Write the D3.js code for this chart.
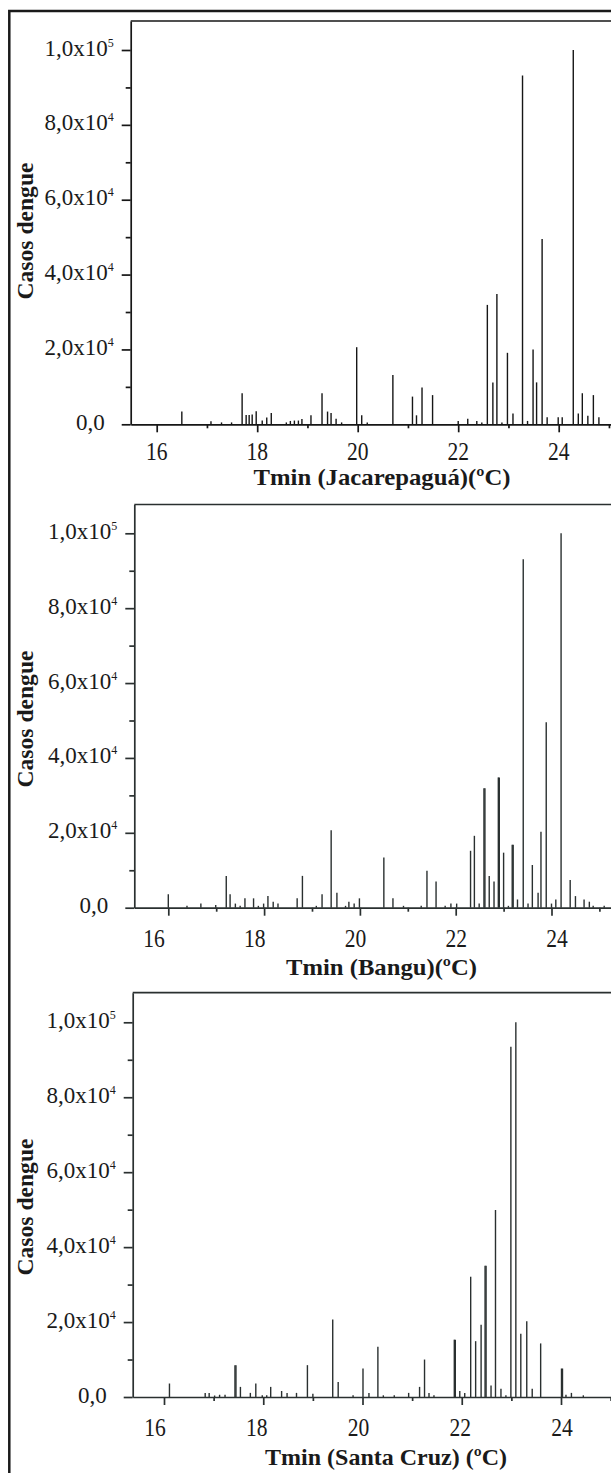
<!DOCTYPE html>
<html>
<head>
<meta charset="utf-8">
<style>
  html, body { margin: 0; padding: 0; background: #fff; overflow: hidden; }
  svg { display: block; }
  text { font-family: "Liberation Serif", "Times New Roman", serif; fill: #1a1a1a; }
  .ttl { font-weight: bold; }
</style>
</head>
<body>
<svg width="611" height="1473"></svg>
<script src="https://cdn.jsdelivr.net/npm/d3@7/dist/d3.min.js"></script>
<script>
// --- dados ---
var xMajor = [16, 18, 20, 22, 24, 26];
var xMinor = [17, 19, 21, 23, 25];
var yMajor = [0, 20000, 40000, 60000, 80000, 100000];
var yMinor = [10000, 30000, 50000, 70000, 90000];
var yLabelMant = ["0,0", "2,0x10", "4,0x10", "6,0x10", "8,0x10", "1,0x10"];
var yLabelExp = ["", "4", "4", "4", "4", "5"];
var xLabels = [16, 18, 20, 22, 24];
var yTitle = "Casos dengue";
var xTitles = ["Tmin (Jacarepaguá)(ºC)", "Tmin (Bangu)(ºC)", "Tmin (Santa Cruz) (ºC)"];

var jacT = [16.50,17.08,17.29,17.49,17.70,17.78,17.84,17.90,17.98,18.10,18.19,18.28,18.58,18.66,18.74,18.82,18.89,19.07,19.29,19.40,19.47,19.57,19.68,19.98,20.08,20.19,20.70,21.09,21.17,21.28,21.49,22.00,22.19,22.37,22.47,22.58,22.69,22.77,22.87,22.98,23.09,23.28,23.38,23.49,23.56,23.67,23.77,23.99,24.07,24.29,24.39,24.47,24.58,24.69,24.80];
var jacCases = [3400,800,500,500,8300,2500,2500,2600,3500,1000,1800,3000,500,900,1000,1000,1400,2400,8300,3400,3000,1500,500,20600,2400,500,13200,7400,2400,9800,7800,900,1500,900,500,31900,11200,34800,500,19100,2900,93200,900,20000,11200,49500,1900,1900,1900,100000,2900,8300,2300,7800,1900];

var banguT = [16.00,16.39,16.68,16.99,17.21,17.29,17.40,17.50,17.60,17.78,17.88,17.99,18.08,18.19,18.29,18.69,18.80,19.09,19.21,19.40,19.52,19.70,19.77,19.88,19.99,20.50,20.69,20.91,21.28,21.40,21.59,21.78,21.90,22.02,22.31,22.39,22.49,22.59,22.61,22.70,22.80,22.89,22.91,23.00,23.10,23.18,23.20,23.29,23.41,23.51,23.60,23.72,23.78,23.89,24.00,24.09,24.20,24.39,24.50,24.68,24.79,24.87,25.10];
var banguCases = [3600,500,1100,700,8500,3600,1100,500,2500,2500,500,1100,3100,1600,1100,2500,8500,500,3600,20700,4000,500,1600,1100,2500,13400,2500,500,500,9900,7000,500,1100,1100,15200,19200,1100,31900,31900,8500,7000,34800,34800,14700,500,16800,16800,2200,93100,1100,11400,4000,20300,49500,1100,2200,100000,7400,3100,2200,1600,500,500];

var scT = [16.11,16.83,16.91,17.02,17.12,17.23,17.43,17.45,17.54,17.74,17.85,17.98,18.07,18.15,18.37,18.48,18.67,18.89,19.00,19.40,19.51,19.81,20.01,20.13,20.31,20.42,20.64,20.93,21.15,21.25,21.34,21.44,21.85,21.87,21.96,22.06,22.18,22.28,22.39,22.47,22.49,22.59,22.68,22.79,22.89,22.99,23.09,23.19,23.31,23.42,23.59,24.01,24.03,24.10,24.21,24.45];
var scCases = [3600,1100,1100,400,600,600,8500,8500,2700,1100,3600,450,450,2700,1600,1100,1100,8500,900,20700,4000,450,7600,1100,13400,450,450,1100,2700,10000,1100,450,15300,15300,1600,1100,32100,14900,19300,35000,35000,3100,49900,2200,450,93500,100000,16900,20200,2200,14300,7600,7600,600,1100,450];

// --- layout de cada painel ---
var panels = [
  {temps: jacT, cases: jacCases, title: xTitles[0], color: "#161616",
   left: 130.7, top: 21, base: 424.3, y100k: 50, x16: 156.7, x24: 558.7, l16: 156.7, l24: 558.7,
   tickLab: 460, titleY: 485, titleX: 382, titleLen: 257, yTitleY: 231},
  {temps: banguT, cases: banguCases, title: xTitles[1], color: "#2a3030",
   left: 134.3, top: 504.5, base: 907.7, y100k: 533.3, x16: 168.3, x24: 551.5, l16: 154, l24: 557,
   tickLab: 947, titleY: 975, titleX: 381.5, titleLen: 191, yTitleY: 719},
  {temps: scT, cases: scCases, title: xTitles[2], color: "#2a3030",
   left: 132.7, top: 992.7, base: 1397, y100k: 1022.3, x16: 164, x24: 561, l16: 155, l24: 562,
   tickLab: 1436.3, titleY: 1465, titleX: 386, titleLen: 242, yTitleY: 1207}
];

var svg = d3.select("svg");

// moldura externa
svg.append("rect")
  .attr("x", 9.3).attr("y", 11)
  .attr("width", 700).attr("height", 1500)
  .attr("fill", "none").attr("stroke", "#1a1a1a").attr("stroke-width", 2.5);

panels.forEach(function(p) {
  var g = svg.append("g");
  var right = 700;

  var x = d3.scaleLinear().domain([16, 24]).range([p.x16, p.x24]);
  x.domain([x.invert(p.left), x.invert(right)]).range([p.left, right]);
  var xl = d3.scaleLinear().domain([16, 24]).range([p.l16, p.l24]);

  var y = d3.scaleLinear().domain([0, 100000]).range([p.base, p.y100k]);
  y.domain([0, y.invert(p.top)]).range([p.base, p.top]);

  // eixo x (ticks para fora)
  g.append("g").attr("transform", "translate(0," + p.base + ")")
    .call(d3.axisBottom(x).tickValues(xMinor).tickSize(4).tickSizeOuter(0).tickFormat(""))
    .call(function(a) { a.select(".domain").remove(); });
  g.append("g").attr("transform", "translate(0," + p.base + ")")
    .call(d3.axisBottom(x).tickValues(xMajor).tickSize(8).tickSizeOuter(0).tickFormat(""));

  // eixo y
  g.append("g").attr("transform", "translate(" + p.left + ",0)")
    .call(d3.axisLeft(y).tickValues(yMinor).tickSize(5).tickSizeOuter(0).tickFormat(""))
    .call(function(a) { a.select(".domain").remove(); });
  g.append("g").attr("transform", "translate(" + p.left + ",0)")
    .call(d3.axisLeft(y).tickValues(yMajor).tickSize(9).tickSizeOuter(0).tickFormat(""));

  g.selectAll(".domain, .tick line")
    .attr("stroke", p.color).attr("stroke-width", 1.7);

  // moldura superior
  g.append("line")
    .attr("x1", p.left).attr("x2", right)
    .attr("y1", p.top).attr("y2", p.top)
    .attr("stroke", p.color).attr("stroke-width", 1.7);

  // barras
  var data = p.temps.map(function(t, i) { return {t: t, v: p.cases[i]}; });
  g.append("g").selectAll("line").data(data).enter().append("line")
    .attr("x1", function(d) { return x(d.t); })
    .attr("x2", function(d) { return x(d.t); })
    .attr("y1", y(0))
    .attr("y2", function(d) { return y(d.v); })
    .attr("stroke", p.color).attr("stroke-width", 1.4);

  // rótulos x
  g.selectAll(".xlab").data(xLabels).enter().append("text")
    .attr("class", "xlab")
    .attr("transform", function(d) { return "translate(" + xl(d) + "," + p.tickLab + ") scale(0.88,1)"; })
    .attr("text-anchor", "middle")
    .attr("font-size", 24.5)
    .text(function(d) { return d; });

  // rótulos y
  var yl = g.selectAll(".ylab").data(yMajor).enter().append("text")
    .attr("class", "ylab")
    .attr("x", function(d, i) { return p.left - (i === 0 ? 26 : 17); })
    .attr("y", function(d) { return y(d) + 5.5; })
    .attr("text-anchor", "end")
    .attr("font-size", 23);
  yl.append("tspan").text(function(d, i) { return yLabelMant[i]; });
  yl.append("tspan")
    .attr("dy", -9).attr("font-size", 12)
    .text(function(d, i) { return yLabelExp[i]; });

  // títulos
  g.append("text").attr("class", "ttl")
    .attr("x", p.titleX).attr("y", p.titleY)
    .attr("text-anchor", "middle")
    .attr("font-size", 23.5)
    .attr("textLength", p.titleLen).attr("lengthAdjust", "spacingAndGlyphs")
    .text(p.title);

  g.append("text").attr("class", "ttl")
    .attr("transform", "translate(33," + p.yTitleY + ") rotate(-90)")
    .attr("text-anchor", "middle")
    .attr("font-size", 23)
    .attr("textLength", 137).attr("lengthAdjust", "spacingAndGlyphs")
    .text(yTitle);
});
</script>
</body>
</html>
